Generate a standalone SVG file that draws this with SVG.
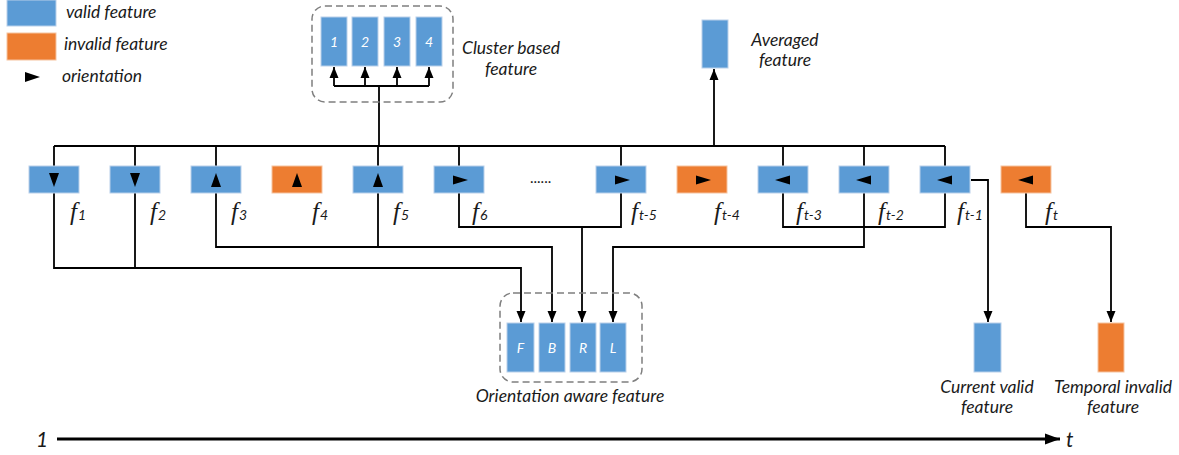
<svg xmlns="http://www.w3.org/2000/svg" width="1179" height="455" viewBox="0 0 1179 455">
<style>
.v{fill:#5b9bd5;stroke:#b9d0ea;stroke-width:1}
.o{fill:#ed7d31;stroke:#f5c3a0;stroke-width:1}
.tri{fill:#000}
.ln{fill:none;stroke:#000;stroke-width:1.8}
.dash{fill:none;stroke:#7f7f7f;stroke-width:1.5;stroke-dasharray:7 4}
.t{font-family:Lato,"Open Sans",sans-serif;font-style:italic;font-size:17.5px;fill:#1a1a1a}
.big{font-size:21px}
.dots{font-style:normal;font-size:15px}
.w{font-family:Lato,"Open Sans",sans-serif;font-style:italic;font-size:14px;fill:#fff;text-anchor:middle}
.f{font-family:"Liberation Serif",serif;font-style:italic;font-size:25px;fill:#1a1a1a}
.s{font-family:Lato,"Open Sans",sans-serif;font-style:italic;font-size:14px}
.c{text-anchor:middle}
</style>
<defs>
<marker id="ah" markerWidth="12" markerHeight="10" refX="11" refY="5" orient="auto" markerUnits="userSpaceOnUse">
<path d="M0,0.5 L11,5 L0,9.5 Z" fill="#000"/>
</marker>
<marker id="ahb" markerWidth="16" markerHeight="12" refX="15" refY="6" orient="auto" markerUnits="userSpaceOnUse">
<path d="M0,0.5 L15,6 L0,11.5 Z" fill="#000"/>
</marker>
</defs>

<g id="legend">
<rect class="v" x="7" y="0" width="49" height="26"/>
<rect class="o" x="7" y="33" width="49" height="27"/>
<polygon class="tri" points="25,72 25,82 40,77"/>
<text class="t" x="66" y="18">valid feature</text>
<text class="t" x="64" y="50">invalid feature</text>
<text class="t" x="62" y="82">orientation</text>
</g>

<g id="connectors">
<path class="ln" d="M54,146 H945"/>
<path class="ln" d="M54,146 V166 M135,146 V166 M216,146 V166 M378,146 V166 M459,146 V166 M621,146 V166 M783,146 V166 M864,146 V166 M945,146 V166"/>
<path class="ln" d="M379,146 V86 M334,86 H429"/>
<path class="ln" d="M334,86 V67" marker-end="url(#ah)"/>
<path class="ln" d="M365,86 V67" marker-end="url(#ah)"/>
<path class="ln" d="M397,86 V67" marker-end="url(#ah)"/>
<path class="ln" d="M429,86 V67" marker-end="url(#ah)"/>
<path class="ln" d="M714,146 V69" marker-end="url(#ah)"/>
<path class="ln" d="M54,193 V268 H521 V322" marker-end="url(#ah)"/>
<path class="ln" d="M135,193 V268"/>
<path class="ln" d="M216,193 V247 H552 V322" marker-end="url(#ah)"/>
<path class="ln" d="M378,193 V247"/>
<path class="ln" d="M459,193 V227 H621 V193"/>
<path class="ln" d="M582,227 V322" marker-end="url(#ah)"/>
<path class="ln" d="M783,193 V227 H945 V193"/>
<path class="ln" d="M864,193 V247 H613 V322" marker-end="url(#ah)"/>
<path class="ln" d="M971,180 H988 V322" marker-end="url(#ah)"/>
<path class="ln" d="M1026,193 V227 H1111 V322" marker-end="url(#ah)"/>
<path d="M57,439 H1060" fill="none" stroke="#000" stroke-width="3" marker-end="url(#ahb)"/>
</g>

<g id="cluster">
<rect class="dash" x="312" y="6" width="141" height="96" rx="13"/>
<rect class="v" x="321" y="17" width="26" height="49"/>
<rect class="v" x="352" y="17" width="26" height="49"/>
<rect class="v" x="384" y="17" width="26" height="49"/>
<rect class="v" x="416" y="17" width="26" height="49"/>
<text class="w" x="334" y="47">1</text>
<text class="w" x="365" y="47">2</text>
<text class="w" x="397" y="47">3</text>
<text class="w" x="429" y="47">4</text>
<text class="t c" x="511" y="54">Cluster based</text>
<text class="t c" x="511" y="75">feature</text>
</g>

<g id="averaged">
<rect class="v" x="702" y="20" width="26" height="48"/>
<text class="t c" x="785" y="46">Averaged</text>
<text class="t c" x="785" y="66">feature</text>
</g>

<g id="features">
<rect class="v" x="29" y="166" width="50" height="27"/>
<polygon class="tri" points="49,173 59,173 54,187"/>
<rect class="v" x="110" y="166" width="50" height="27"/>
<polygon class="tri" points="130,173 140,173 135,187"/>
<rect class="v" x="191" y="166" width="50" height="27"/>
<polygon class="tri" points="211,187 221,187 216,173"/>
<rect class="o" x="272" y="166" width="50" height="27"/>
<polygon class="tri" points="292,187 302,187 297,173"/>
<rect class="v" x="353" y="166" width="50" height="27"/>
<polygon class="tri" points="373,187 383,187 378,173"/>
<rect class="v" x="434" y="166" width="50" height="27"/>
<polygon class="tri" points="453,175.5 453,184.5 468,180"/>
<rect class="v" x="596" y="166" width="50" height="27"/>
<polygon class="tri" points="615,175.5 615,184.5 630,180"/>
<rect class="o" x="677" y="166" width="50" height="27"/>
<polygon class="tri" points="696,175.5 696,184.5 711,180"/>
<rect class="v" x="758" y="166" width="50" height="27"/>
<polygon class="tri" points="775,180 790,175.5 790,184.5"/>
<rect class="v" x="839" y="166" width="50" height="27"/>
<polygon class="tri" points="856,180 871,175.5 871,184.5"/>
<rect class="v" x="920" y="166" width="50" height="27"/>
<polygon class="tri" points="937,180 952,175.5 952,184.5"/>
<rect class="o" x="1001" y="166" width="50" height="27"/>
<polygon class="tri" points="1018,180 1033,175.5 1033,184.5"/>
<text class="t dots" x="530" y="183">......</text>
<text class="f" x="70" y="220">f<tspan class="s" dx="1">1</tspan></text>
<text class="f" x="150" y="220">f<tspan class="s" dx="1">2</tspan></text>
<text class="f" x="231" y="220">f<tspan class="s" dx="1">3</tspan></text>
<text class="f" x="312" y="220">f<tspan class="s" dx="1">4</tspan></text>
<text class="f" x="393" y="220">f<tspan class="s" dx="1">5</tspan></text>
<text class="f" x="472" y="220">f<tspan class="s" dx="1">6</tspan></text>
<text class="f" x="631" y="220">f<tspan class="s" dx="1">t-5</tspan></text>
<text class="f" x="714" y="220">f<tspan class="s" dx="1">t-4</tspan></text>
<text class="f" x="796" y="220">f<tspan class="s" dx="1">t-3</tspan></text>
<text class="f" x="878" y="220">f<tspan class="s" dx="1">t-2</tspan></text>
<text class="f" x="957" y="220">f<tspan class="s" dx="1">t-1</tspan></text>
<text class="f" x="1045" y="220">f<tspan class="s" dx="1">t</tspan></text>
</g>

<g id="orientation">
<rect class="dash" x="500" y="293" width="142" height="89" rx="13"/>
<rect class="v" x="507" y="323" width="27" height="49"/>
<rect class="v" x="539" y="323" width="26" height="49"/>
<rect class="v" x="570" y="323" width="26" height="49"/>
<rect class="v" x="600" y="323" width="26" height="49"/>
<text class="w" x="520.5" y="353">F</text>
<text class="w" x="552" y="353">B</text>
<text class="w" x="583" y="353">R</text>
<text class="w" x="613" y="353">L</text>
<text class="t c" x="570" y="402">Orientation aware feature</text>
</g>

<g id="current">
<rect class="v" x="974" y="323" width="27" height="49"/>
<text class="t c" x="987" y="393">Current valid</text>
<text class="t c" x="987" y="413">feature</text>
</g>

<g id="temporal">
<rect class="o" x="1098" y="323" width="26" height="49"/>
<text class="t c" x="1113" y="393">Temporal invalid</text>
<text class="t c" x="1113" y="413">feature</text>
</g>

<g id="timeline">
<text class="t big" x="36" y="447">1</text>
<text class="t big" x="1066" y="447">t</text>
</g>
</svg>
